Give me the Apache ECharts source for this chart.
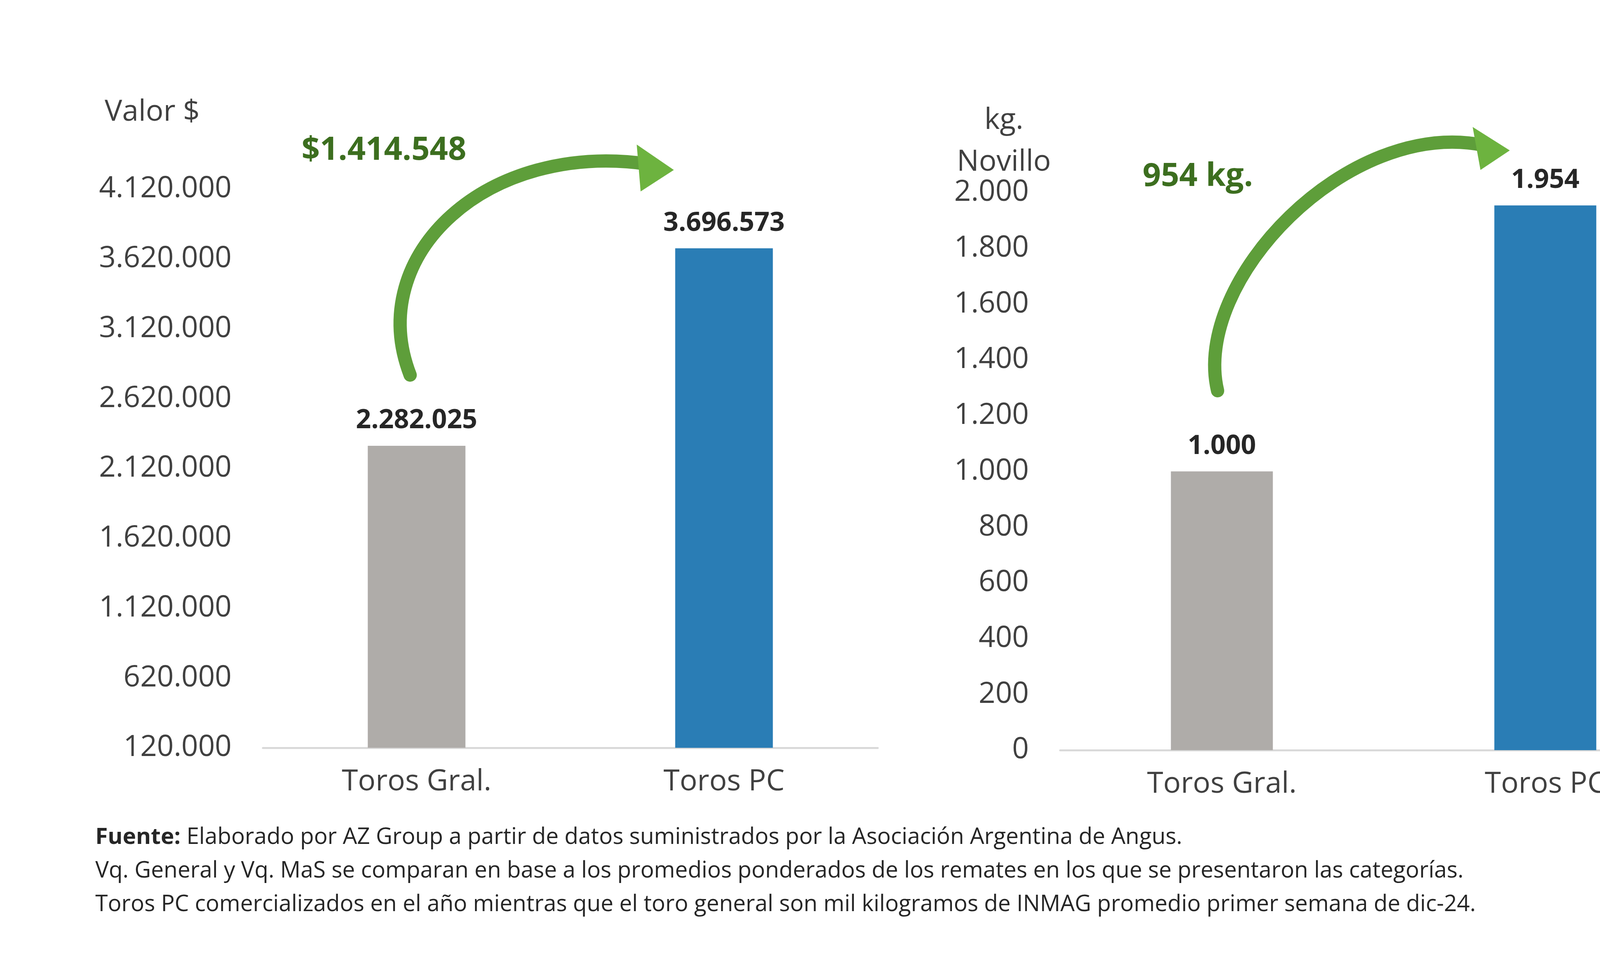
<!DOCTYPE html>
<html>
<head>
<meta charset="UTF-8">
<script src="https://cdn.jsdelivr.net/npm/echarts@6/dist/echarts.min.js"></script>
<style>html,body{margin:0;background:#fff}#c{width:4500px;height:2475px}</style>
</head>
<body>
<div id="c"></div>
<script>
// datos
const categorias = ['Toros Gral.', 'Toros PC'];
const valorPesos = [2282025, 3696573];
const kgNovillo = [1000, 1954];
const colores = ['#AFACA9', '#2A7DB5'];
const diferencias = ['$1.414.548', '954 kg.'];
const notas = [
  'Elaborado por AZ Group a partir de datos suministrados por la Asociación Argentina de Angus.',
  'Vq. General y Vq. MaS se comparan en base a los promedios ponderados de los remates en los que se presentaron las categorías.',
  'Toros PC comercializados en el año mientras que el toro general son mil kilogramos de INMAG promedio primer semana de dic-24.'
];

const fmt = v => String(v).replace(/\B(?=(\d{3})+(?!\d))/g, '.');
const FONT = '"Open Sans", sans-serif';
const green = '#5E9E3A';

const chart = echarts.init(document.getElementById('c'));
const axisLbl = { fontSize: 75, color: '#404040', fontFamily: FONT, formatter: fmt, margin: 80 };
const catLbl = { fontSize: 75, color: '#404040', fontFamily: FONT, margin: 50 };
const barSeries = (data, xi, w) => ({
  type: 'bar', xAxisIndex: xi, yAxisIndex: xi, barWidth: w,
  data: data.map((v, i) => ({ value: v, itemStyle: { color: colores[i] } })),
  label: { show: true, position: 'top', formatter: p => fmt(p.value), fontSize: 68, fontWeight: 'bold',
           color: '#262626', fontFamily: FONT, distance: 30 }
});
function arrow(c, head) {
  return [
    { type: 'bezierCurve', shape: c, style: { fill: null, stroke: green, lineWidth: 34, lineCap: 'round' } },
    { type: 'polygon', shape: { points: head }, style: { fill: '#6DB33F' } }
  ];
}
const txt = (x, y, style) => ({ type: 'text', x, y, style: Object.assign({ fontFamily: FONT }, style) });
chart.setOption({
  animation: false,
  grid: [
    { left: 673, right: 4500 - 2247, top: 484, bottom: 2475 - 1914 },
    { left: 2714, right: 4500 - 4370, top: 493, bottom: 2475 - 1920 }
  ],
  xAxis: [0, 1].map(g => ({
    type: 'category', gridIndex: g, data: categorias,
    axisLine: { lineStyle: { color: '#D9D9D9', width: 5 } }, axisTick: { show: false }, axisLabel: catLbl
  })),
  yAxis: [
    { type: 'value', gridIndex: 0, min: 120000, max: 4120000, interval: 500000,
      splitLine: { show: false }, axisLine: { show: false }, axisLabel: axisLbl },
    { type: 'value', gridIndex: 1, min: 0, max: 2000, interval: 200,
      splitLine: { show: false }, axisLine: { show: false }, axisLabel: axisLbl }
  ],
  series: [barSeries(valorPesos, 0, 250), barSeries(kgNovillo, 1, 261)],
  graphic: [
    txt(268, 250, { text: 'Valor $', fontSize: 75, fill: '#404040' }),
    txt(2570, 255, { text: 'kg.\nNovillo', fontSize: 75, fill: '#404040', align: 'center', lineHeight: 107 }),
    txt(772, 345, { text: diferencias[0], fontSize: 82, fontWeight: 'bold', fill: '#3C6E1F' }),
    txt(2925, 412, { text: diferencias[1], fontSize: 82, fontWeight: 'bold', fill: '#3C6E1F' }),
    ...arrow({ x1: 1050, y1: 960, cpx1: 930, cpy1: 650, cpx2: 1250, cpy2: 360, x2: 1660, y2: 420 },
             [[1630, 370], [1725, 435], [1640, 490]]),
    ...arrow({ x1: 3117, y1: 1000, cpx1: 3050, cpy1: 720, cpx2: 3450, cpy2: 300, x2: 3800, y2: 372 },
             [[3770, 325], [3865, 385], [3790, 435]]),
    txt(244, 2100, {
      text: '{b|Fuente:} ' + notas[0] + '\n' + notas[1] + '\n' + notas[2],
      fontSize: 58, fill: '#262626', lineHeight: 86,
      rich: { b: { fontWeight: 'bold', fontSize: 58, fontFamily: FONT, fill: '#262626' } } })
  ]
});
</script>
</body>
</html>
